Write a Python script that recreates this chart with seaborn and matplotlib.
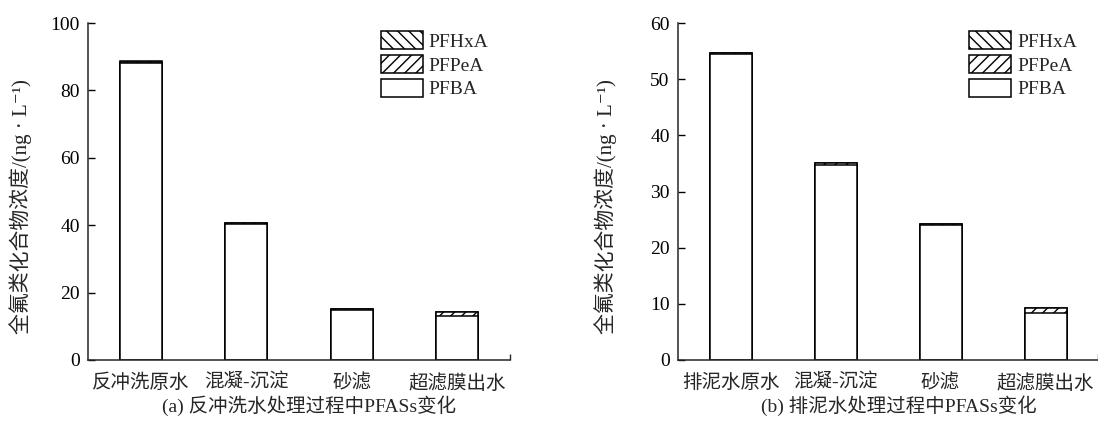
import numpy as np
import pandas as pd
import matplotlib
matplotlib.use("Agg")
import matplotlib.pyplot as plt
from matplotlib.patches import Patch
import seaborn as sns

# ---------------- data ----------------
cats_a = ["反冲洗原水", "混凝-沉淀", "砂滤", "超滤膜出水"]
pfba_a = [88.0, 40.3, 14.8, 13.1]
pfpea_a = [0.4, 0.3, 0.2, 1.0]
pfhxa_a = [0.3, 0.2, 0.1, 0.2]

cats_b = ["排泥水原水", "混凝-沉淀", "砂滤", "超滤膜出水"]
pfba_b = [54.4, 34.8, 24.1, 8.3]
pfpea_b = [0.2, 0.2, 0.1, 1.0]
pfhxa_b = [0.1, 0.1, 0.1, 0.0]

series_names = ["PFHxA", "PFPeA", "PFBA"]
ylabel = "全氟类化合物浓度/(ng · L⁻¹)"
caption_a = "(a) 反冲洗水处理过程中PFASs变化"
caption_b = "(b) 排泥水处理过程中PFASs变化"
yticks_a = [0, 20, 40, 60, 80, 100]
yticks_b = [0, 10, 20, 30, 40, 50, 60]

# ---------------- style ----------------
sns.set_style("ticks")
plt.rcParams["font.family"] = ["Liberation Serif", "Noto Sans CJK SC", "DejaVu Sans"]
plt.rcParams["hatch.linewidth"] = 1.0
plt.rcParams["axes.linewidth"] = 1.1

FS = 14
hatches = ["\\\\\\", "///", ""]

fig = plt.figure(figsize=(10.98, 4.30), dpi=100)
ax_a = fig.add_axes([88 / 1098, 1 - 360 / 430, 422 / 1098, 337 / 430])
ax_b = fig.add_axes([678 / 1098, 1 - 360 / 430, 420 / 1098, 337 / 430])


def draw(ax, cats, pfba, pfpea, pfhxa, ymax, yticks, labx):
    pfba = np.array(pfba)
    pfpea = np.array(pfpea)
    pfhxa = np.array(pfhxa)
    layers = [pfba + pfpea + pfhxa, pfba + pfpea, pfba]
    for vals, h in zip(layers, hatches):
        df = pd.DataFrame({"cat": cats, "val": vals})
        sns.barplot(data=df, x="cat", y="val", order=cats, color="white",
                    edgecolor="black", linewidth=1.1, hatch=h, width=0.4,
                    saturation=1, ax=ax, errorbar=None)
    ax.set_xlim(-0.5, 3.5)
    ax.set_ylim(0, ymax)
    ax.set_yticks(yticks)
    ax.set_xlabel("")
    ax.set_ylabel(ylabel, fontsize=15)
    ax.yaxis.set_label_coords(labx, 0.455)
    sns.despine(ax=ax)
    ax.tick_params(axis="y", direction="in", length=5, width=1.0,
                   labelsize=FS, pad=6, colors="black")
    ax.tick_params(axis="x", length=0, labelsize=FS, pad=10)
    ax.set_xticks([0, 1, 2, 3], cats)
    ax.set_xticks([3.5], minor=True)
    ax.tick_params(axis="x", which="minor", direction="in", length=4, width=1.0)
    handles = [Patch(facecolor="white", edgecolor="black", hatch=h, linewidth=1.1)
               for h in hatches]
    ax.legend(handles, series_names, loc="upper left",
              bbox_to_anchor=(0.694, 0.975), frameon=False, fontsize=FS,
              handlelength=2.15, handleheight=1.05, labelspacing=0.2,
              handletextpad=0.3, borderpad=0, borderaxespad=0)


draw(ax_a, cats_a, pfba_a, pfpea_a, pfhxa_a, 100, yticks_a, -0.133)
draw(ax_b, cats_b, pfba_b, pfpea_b, pfhxa_b, 60, yticks_b, -0.145)

fig.text(309 / 1098, 1 - 406 / 430, caption_a, ha="center", va="center",
         fontsize=14)
fig.text(899 / 1098, 1 - 406 / 430, caption_b, ha="center", va="center",
         fontsize=14)

fig.savefig("out.png", dpi=100)
